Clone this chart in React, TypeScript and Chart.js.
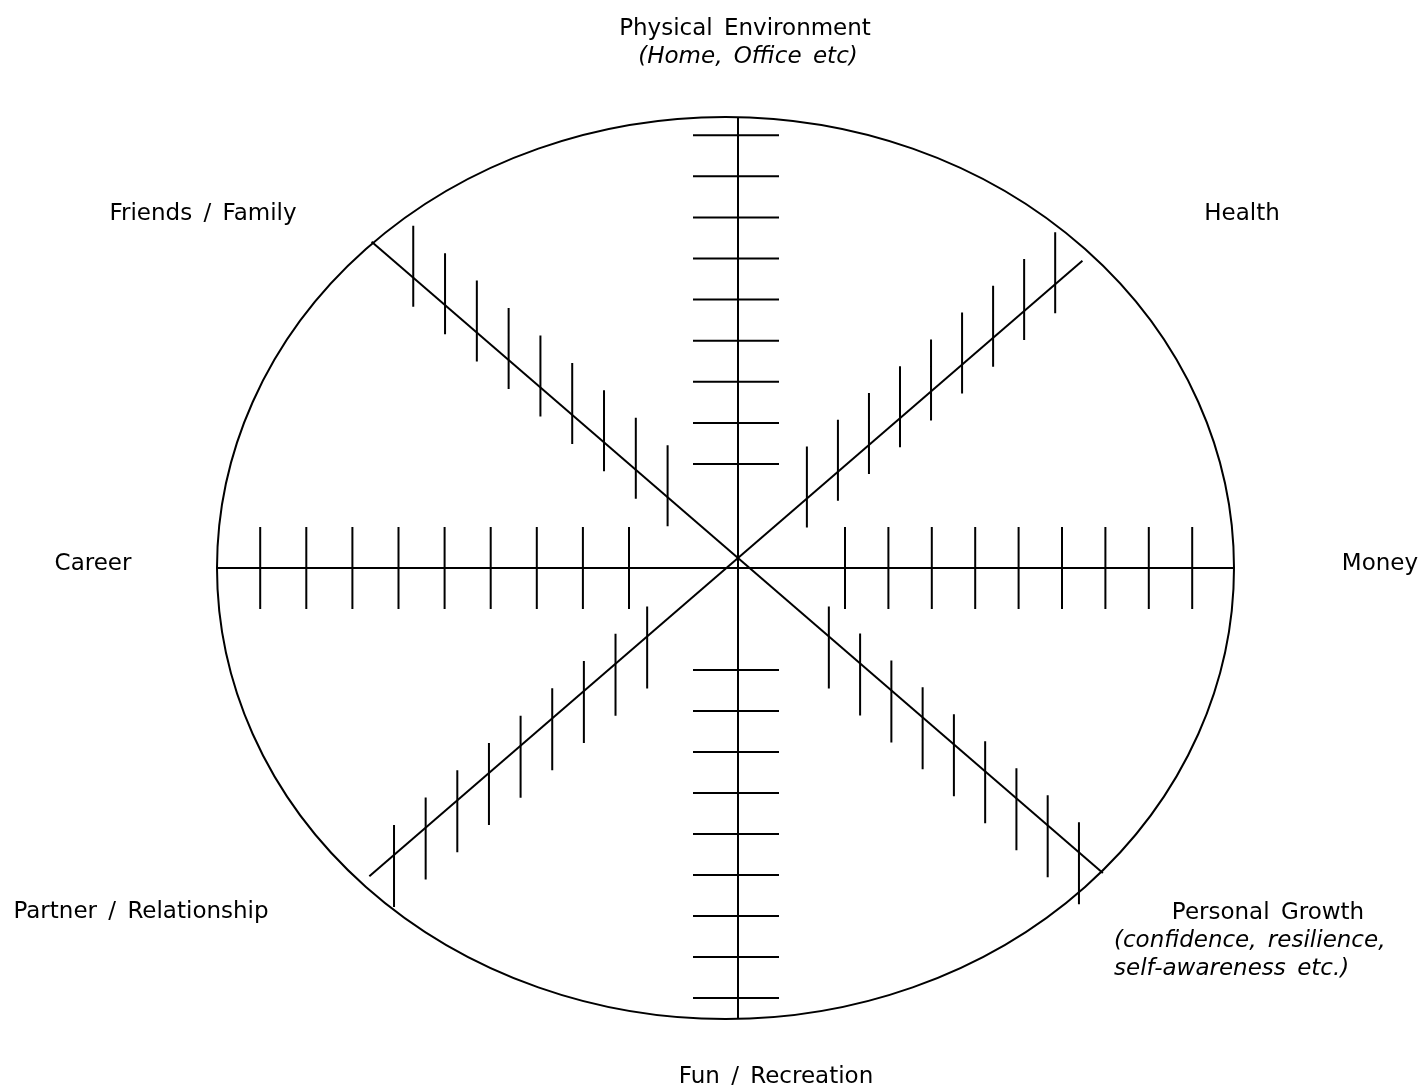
import React, { useEffect, useRef } from "react";
import { Chart, registerables } from "chart.js";

Chart.register(...registerables);

// ---------- data ----------
const categories = [
  "Physical Environment",
  "Health",
  "Money",
  "Personal Growth",
  "Fun / Recreation",
  "Partner / Relationship",
  "Career",
  "Friends / Family",
];
const subLabels: string[][] = [
  ["(Home, Office etc)"],
  [],
  [],
  ["(confidence, resilience,", "self-awareness etc.)"],
  [],
  [],
  [],
  [],
];
// direction of each spoke, degrees (0 = right, counter-clockwise)
const spokeAngles = [90, 40.8, 0, -40.8, -90, -139.2, 180, 139.2];
// rating marks on every spoke
const ratingTicks = [1, 2, 3, 4, 5, 6, 7, 8, 9];

// ---------- layout (chart units, y up, origin at the hub) ----------
const W = 1421;
const H = 1085;
const HUB_PX = { x: 738, y: 568 };
const DIAG_ORIGIN = { x: 0, y: 10 };
const ELLIPSE = { cx: -12.5, cy: 0, rx: 508.5, ry: 451 };

type SpokeLayout = {
  diag: boolean;
  first: number;
  step: number;
  length: number;
  tickDir: [number, number];
  span: [number, number];
};
const spokeLayout: SpokeLayout[] = [
  { diag: false, first: 104, step: 41.1, length: 451, tickDir: [1, 0], span: [-45, 41] },
  { diag: true, first: 91, step: 41, length: 455, tickDir: [0, 1], span: [-29, 52] },
  { diag: false, first: 107, step: 43.4, length: 496, tickDir: [0, 1], span: [-41, 41] },
  { diag: true, first: 120, step: 41.3, length: 482, tickDir: [0, 1], span: [-52, 30] },
  { diag: false, first: 102, step: 41, length: 451, tickDir: [1, 0], span: [-45, 41] },
  { diag: true, first: 120, step: 41.8, length: 487, tickDir: [0, 1], span: [-52, 30] },
  { diag: false, first: 109, step: 46.1, length: 521, tickDir: [0, 1], span: [-41, 41] },
  { diag: true, first: 93, step: 42, length: 484, tickDir: [0, 1], span: [-29, 52] },
];

// label positions in page pixels
const labelLayout = [
  { x: 745, y: 35, subX: 748, subAlign: "center" },
  { x: 1242, y: 220 },
  { x: 1380, y: 570 },
  { x: 1268, y: 919, subX: 1114, subAlign: "left" },
  { x: 776, y: 1083 },
  { x: 141, y: 918 },
  { x: 93, y: 570 },
  { x: 203, y: 220 },
];
const LINE_GAP = 28;
const FONT = '23px "DejaVu Sans", Verdana, sans-serif';
const FONT_IT = 'italic 23px "DejaVu Sans", Verdana, sans-serif';

function buildDatasets() {
  const sets: any[] = [];
  const base = {
    showLine: true,
    pointRadius: 0,
    borderColor: "#000",
    borderWidth: 2,
    tension: 0,
    spanGaps: false,
  };
  spokeAngles.forEach((deg, i) => {
    const L = spokeLayout[i];
    const a = (deg * Math.PI) / 180;
    const o = L.diag ? DIAG_ORIGIN : { x: 0, y: 0 };
    const dx = Math.cos(a);
    const dy = Math.sin(a);
    sets.push({
      ...base,
      label: categories[i],
      data: [
        { x: o.x, y: o.y },
        { x: o.x + dx * L.length, y: o.y + dy * L.length },
      ],
    });
    const tickData: { x: number; y: number }[] = [];
    ratingTicks.forEach((r) => {
      const d = L.first + (r - 1) * L.step;
      const px = o.x + dx * d;
      const py = o.y + dy * d;
      tickData.push({ x: px + L.tickDir[0] * L.span[0], y: py + L.tickDir[1] * L.span[0] });
      tickData.push({ x: px + L.tickDir[0] * L.span[1], y: py + L.tickDir[1] * L.span[1] });
      tickData.push({ x: NaN, y: NaN });
    });
    sets.push({ ...base, label: categories[i] + " ticks", data: tickData });
  });
  return sets;
}

const framePlugin = {
  id: "wheelFrame",
  beforeDatasetsDraw(chart: any) {
    const { ctx, scales } = chart;
    const xs = scales.x;
    const ys = scales.y;
    const cx = xs.getPixelForValue(ELLIPSE.cx);
    const cy = ys.getPixelForValue(ELLIPSE.cy);
    const rx = Math.abs(xs.getPixelForValue(ELLIPSE.cx + ELLIPSE.rx) - cx);
    const ry = Math.abs(ys.getPixelForValue(ELLIPSE.cy + ELLIPSE.ry) - cy);
    ctx.save();
    ctx.beginPath();
    ctx.ellipse(cx, cy, rx, ry, 0, 0, Math.PI * 2);
    ctx.lineWidth = 2;
    ctx.strokeStyle = "#000";
    ctx.stroke();
    ctx.restore();
  },
  afterDraw(chart: any) {
    const { ctx } = chart;
    ctx.save();
    ctx.fillStyle = "#000";
    ctx.textBaseline = "alphabetic";
    try {
      (ctx as any).wordSpacing = "4px";
    } catch (e) {}
    categories.forEach((name, i) => {
      const p: any = labelLayout[i];
      ctx.font = FONT;
      ctx.textAlign = "center";
      ctx.fillText(name, p.x, p.y);
      subLabels[i].forEach((s, j) => {
        ctx.font = FONT_IT;
        ctx.textAlign = p.subAlign || "center";
        ctx.fillText(s, p.subX ?? p.x, p.y + LINE_GAP * (j + 1));
      });
    });
    ctx.restore();
  },
};

export default function App() {
  const ref = useRef<HTMLCanvasElement | null>(null);
  useEffect(() => {
    document.body.style.margin = "0";
    document.body.style.background = "#fff";
    if (!ref.current) return;
    const chart = new Chart(ref.current, {
      type: "scatter",
      data: { datasets: buildDatasets() },
      options: {
        animation: false,
        responsive: false,
        devicePixelRatio: 1,
        events: [],
        layout: { padding: 0 },
        plugins: { legend: { display: false }, tooltip: { enabled: false } },
        scales: {
          x: { type: "linear", display: false, min: -HUB_PX.x, max: W - HUB_PX.x },
          y: { type: "linear", display: false, min: -(H - HUB_PX.y), max: HUB_PX.y },
        },
      },
      plugins: [framePlugin],
    });
    return () => chart.destroy();
  }, []);
  return (
    <div style={{ width: W, height: H, background: "#fff" }}>
      <canvas ref={ref} width={W} height={H} style={{ display: "block" }} />
    </div>
  );
}
